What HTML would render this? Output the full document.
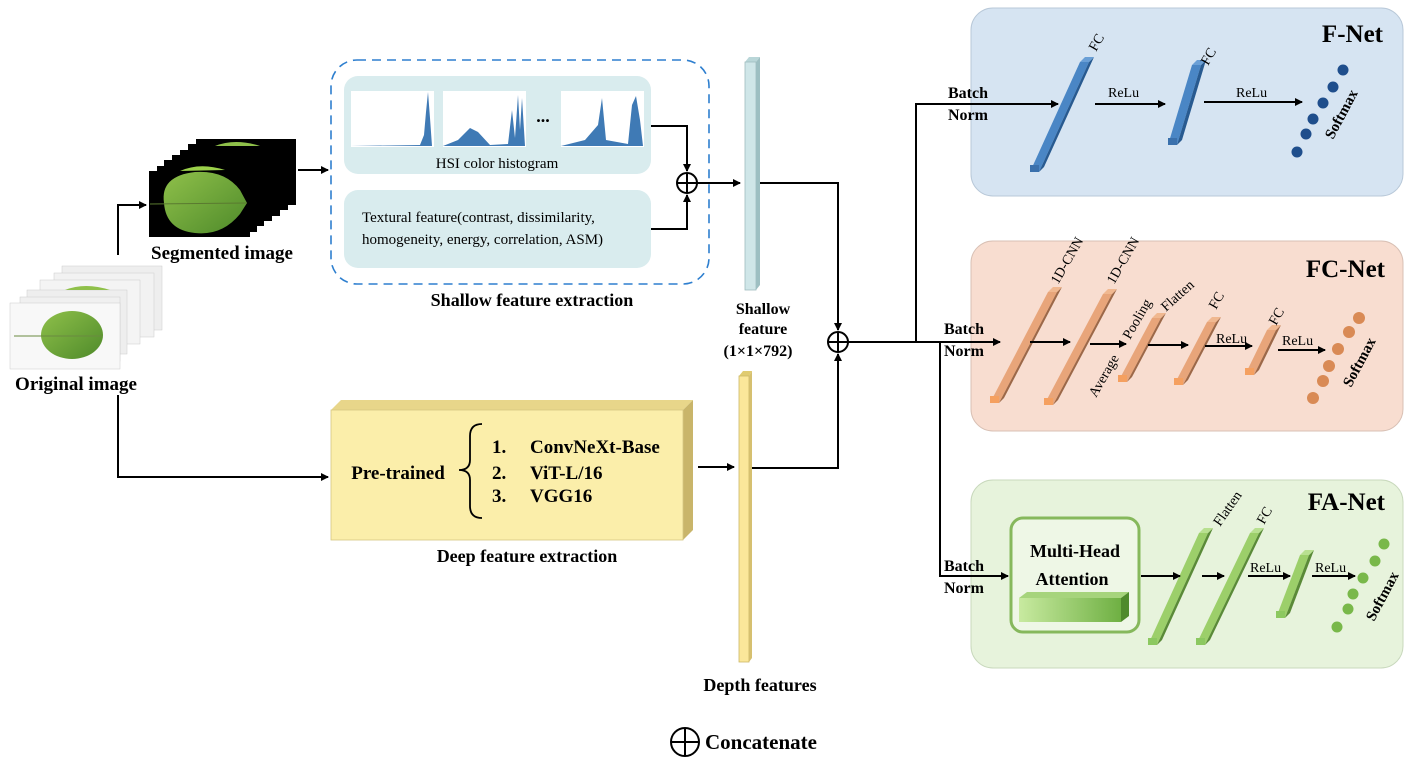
<!DOCTYPE html>
<html><head><meta charset="utf-8"><style>
html,body{margin:0;padding:0;background:#fff}
svg{display:block}
text{font-family:"Liberation Serif",serif;fill:#000}
.b{font-weight:bold}
</style></head><body>
<svg width="1413" height="766" viewBox="0 0 1413 766" xmlns="http://www.w3.org/2000/svg">
<defs>
<marker id="ar" markerWidth="8" markerHeight="8" refX="7" refY="4" orient="auto" markerUnits="userSpaceOnUse"><path d="M0,0 L8,4 L0,8 z" fill="#000"/></marker>
<linearGradient id="leaf" x1="0" y1="0" x2="1" y2="1"><stop offset="0" stop-color="#8fc04a"/><stop offset="1" stop-color="#4e8a2a"/></linearGradient>
<linearGradient id="mh" x1="0" y1="0" x2="1" y2="0"><stop offset="0" stop-color="#c8eaa0"/><stop offset="1" stop-color="#6fb043"/></linearGradient>
</defs>

<rect x="971" y="8" width="432" height="188" rx="22" fill="#d6e4f2" stroke="#b8c8d8"/>
<rect x="971" y="241" width="432" height="190" rx="22" fill="#f8ddd0" stroke="#d8c0b4"/>
<rect x="971" y="480" width="432" height="188" rx="22" fill="#e7f3dc" stroke="#c8d8bc"/>
<text x="1383" y="42" font-size="25" class="b" text-anchor="end">F-Net</text>
<text x="1385" y="277" font-size="25" class="b" text-anchor="end">FC-Net</text>
<text x="1385" y="510" font-size="25" class="b" text-anchor="end">FA-Net</text>

<g>
<rect x="196" y="139" width="100" height="66" fill="#000"/>
<rect x="188" y="144" width="100" height="66" fill="#000"/>
<rect x="180" y="150" width="100" height="66" fill="#000"/>
<rect x="172" y="155" width="100" height="66" fill="#000"/>
<rect x="164" y="160" width="100" height="66" fill="#000"/>
<rect x="157" y="166" width="100" height="66" fill="#000"/>
<rect x="149" y="171" width="101" height="66" fill="#000"/>
<path d="M215,146 Q235,138 260,146 Z" fill="#8fc04a"/>
<path d="M180,171 Q200,162 225,170 Z" fill="#9bd04a"/>
<path d="M164,203 Q160,176 195,172 Q225,170 240,190 L247,203 L240,214 Q222,236 195,233 Q166,230 164,203 Z" fill="url(#leaf)"/>
<line x1="150" y1="204" x2="247" y2="203" stroke="#5a7a30" stroke-width="1"/>
</g>
<g>
<rect x="62" y="266" width="100" height="64" fill="#eee" stroke="#ccc" stroke-width="0.5"/>
<rect x="54" y="273" width="100" height="64" fill="#f2f2f2" stroke="#ccc" stroke-width="0.5"/>
<rect x="40" y="280" width="100" height="64" fill="#f4f4f4" stroke="#ccc" stroke-width="0.5"/>
<rect x="27" y="290" width="100" height="64" fill="#eee" stroke="#ccc" stroke-width="0.5"/>
<rect x="20" y="297" width="100" height="64" fill="#f0f0f0" stroke="#ccc" stroke-width="0.5"/>
<rect x="10" y="303" width="110" height="66" fill="#f8f8f8" stroke="#ccc" stroke-width="0.5"/>
<path d="M65,290 Q85,282 110,290 Z" fill="#8fc04a"/>
<ellipse cx="72" cy="335" rx="31" ry="24" fill="url(#leaf)"/>
<line x1="14" y1="336" x2="102" y2="336" stroke="#6a8a40" stroke-width="1"/>
</g>
<text x="222" y="259" font-size="19" class="b" text-anchor="middle">Segmented image</text>
<text x="76" y="390" font-size="19" class="b" text-anchor="middle">Original image</text>

<polyline points="118,255 118,205 146,205" fill="none" stroke="#000" stroke-width="2" marker-end="url(#ar)"/>
<polyline points="118,395 118,477 328,477" fill="none" stroke="#000" stroke-width="2" marker-end="url(#ar)"/>
<line x1="298" y1="170" x2="328" y2="170" stroke="#000" stroke-width="2" marker-end="url(#ar)"/>

<rect x="331" y="60" width="378" height="224" rx="26" fill="none" stroke="#2e7fcf" stroke-width="1.6" stroke-dasharray="9,6"/>
<rect x="344" y="76" width="307" height="98" rx="14" fill="#d9ecee"/>
<rect x="344" y="190" width="307" height="78" rx="14" fill="#d9ecee"/>
<rect x="351" y="91" width="83" height="56" fill="#fff"/>
<rect x="443" y="91" width="83" height="56" fill="#fff"/>
<rect x="561" y="91" width="83" height="56" fill="#fff"/>
<path d="M351,146 L420,145 L424,135 L426,112 L428,92 L430,118 L432,146 Z" fill="#3f7ab5"/>
<path d="M443,146 L458,140 L470,128 L478,132 L490,145 L508,144 L512,110 L515,138 L518,95 L520,130 L522,98 L525,146 Z" fill="#3f7ab5"/>
<path d="M561,146 L585,140 L598,125 L602,98 L606,140 L628,144 L632,105 L636,96 L640,120 L643,146 Z" fill="#3f7ab5"/>
<text x="543" y="122" font-size="18" class="b" text-anchor="middle">...</text>
<text x="497" y="168" font-size="15" text-anchor="middle">HSI color histogram</text>
<text x="362" y="222" font-size="15">Textural feature(contrast, dissimilarity,</text>
<text x="362" y="244" font-size="15">homogeneity, energy, correlation, ASM)</text>
<text x="532" y="306" font-size="18" class="b" text-anchor="middle">Shallow feature extraction</text>

<polyline points="651,126 687,126 687,171" fill="none" stroke="#000" stroke-width="2" marker-end="url(#ar)"/>
<polyline points="651,229 687,229 687,195" fill="none" stroke="#000" stroke-width="2" marker-end="url(#ar)"/>
<circle cx="687" cy="183" r="10" fill="#fff" stroke="#000" stroke-width="2"/>
<line x1="677" y1="183" x2="697" y2="183" stroke="#000" stroke-width="2"/><line x1="687" y1="173" x2="687" y2="193" stroke="#000" stroke-width="2"/>
<line x1="697" y1="183" x2="740" y2="183" stroke="#000" stroke-width="2" marker-end="url(#ar)"/>

<polygon points="745,62 749,57 760,57 756,62" fill="#b9d6d8"/>
<rect x="745" y="62" width="11" height="228" fill="#cfe6e8" stroke="#a0bcbe" stroke-width="0.8"/>
<polygon points="756,62 760,57 760,285 756,290" fill="#9dbfc2"/>
<text x="763" y="314" font-size="16" class="b" text-anchor="middle">Shallow</text>
<text x="763" y="334" font-size="16" class="b" text-anchor="middle">feature</text>
<text x="758" y="356" font-size="16" class="b" text-anchor="middle">(1×1×792)</text>

<polyline points="760,183 838,183 838,330" fill="none" stroke="#000" stroke-width="2" marker-end="url(#ar)"/>
<polyline points="751,468 838,468 838,354" fill="none" stroke="#000" stroke-width="2" marker-end="url(#ar)"/>
<circle cx="838" cy="342" r="10" fill="#fff" stroke="#000" stroke-width="2"/>
<line x1="828" y1="342" x2="848" y2="342" stroke="#000" stroke-width="2"/><line x1="838" y1="332" x2="838" y2="352" stroke="#000" stroke-width="2"/>

<polygon points="331,410 341,400 693,400 683,410" fill="#e8d68a"/>
<polygon points="683,410 693,400 693,530 683,540" fill="#c9b56a"/>
<rect x="331" y="410" width="352" height="130" fill="#fbeeaa" stroke="#d6c681" stroke-width="0.8"/>
<text x="398" y="479" font-size="19" class="b" text-anchor="middle">Pre-trained</text>
<path d="M482,424 Q470,424 470,436 L470,460 Q470,470 459,470 Q470,470 470,480 L470,506 Q470,518 482,518" fill="none" stroke="#000" stroke-width="1.8"/>
<text x="492" y="453" font-size="19" class="b">1.</text><text x="530" y="453" font-size="19" class="b">ConvNeXt-Base</text>
<text x="492" y="479" font-size="19" class="b">2.</text><text x="530" y="479" font-size="19" class="b">ViT-L/16</text>
<text x="492" y="502" font-size="19" class="b">3.</text><text x="530" y="502" font-size="19" class="b">VGG16</text>
<text x="527" y="562" font-size="18" class="b" text-anchor="middle">Deep feature extraction</text>
<line x1="698" y1="467" x2="734" y2="467" stroke="#000" stroke-width="2" marker-end="url(#ar)"/>

<polygon points="739,376 743,371 752,371 749,376" fill="#e0cb70"/>
<rect x="739" y="376" width="10" height="286" fill="#fbe79a" stroke="#cdb866" stroke-width="0.8"/>
<polygon points="749,376 752,371 752,658 749,662" fill="#d6c070"/>
<text x="760" y="691" font-size="18" class="b" text-anchor="middle">Depth features</text>

<circle cx="685" cy="742" r="14" fill="#fff" stroke="#000" stroke-width="2"/>
<line x1="671" y1="742" x2="699" y2="742" stroke="#000" stroke-width="2"/><line x1="685" y1="728" x2="685" y2="756" stroke="#000" stroke-width="2"/>
<text x="705" y="749" font-size="21" class="b">Concatenate</text>

<polyline points="848,342 916,342 916,104 1058,104" fill="none" stroke="#000" stroke-width="2" marker-end="url(#ar)"/>
<polyline points="916,342 1000,342" fill="none" stroke="#000" stroke-width="2" marker-end="url(#ar)"/>
<polyline points="940,342 940,576 1008,576" fill="none" stroke="#000" stroke-width="2" marker-end="url(#ar)"/>
<text x="948" y="98" font-size="16" class="b">Batch</text><text x="948" y="120" font-size="16" class="b">Norm</text>
<text x="944" y="334" font-size="16" class="b">Batch</text><text x="944" y="356" font-size="16" class="b">Norm</text>
<text x="944" y="571" font-size="16" class="b">Batch</text><text x="944" y="593" font-size="16" class="b">Norm</text>

<!-- F-Net bars -->
<g>
<polygon points="1030,172 1080,62 1089,62 1039,172" fill="#4a86c5"/><polygon points="1039,172 1089,62 1094,57 1044,167" fill="#285a90"/><polygon points="1080,62 1085,57 1094,57 1089,62" fill="#6a9fd6"/>
<rect x="1030" y="165" width="9" height="7" fill="#3a70ac"/>
<polygon points="1168,145 1192,65 1201,65 1177,145" fill="#4a86c5"/><polygon points="1177,145 1201,65 1206,60 1182,140" fill="#285a90"/><polygon points="1192,65 1197,60 1206,60 1201,65" fill="#6a9fd6"/>
<rect x="1168" y="138" width="9" height="7" fill="#3a70ac"/>
<line x1="1095" y1="104" x2="1165" y2="104" stroke="#000" stroke-width="2" marker-end="url(#ar)"/>
<line x1="1204" y1="102" x2="1302" y2="102" stroke="#000" stroke-width="2" marker-end="url(#ar)"/>
<text x="1108" y="97" font-size="14">ReLu</text><text x="1236" y="97" font-size="14">ReLu</text>
<text transform="translate(1096,52) rotate(-60)" font-size="14">FC</text>
<text transform="translate(1208,66) rotate(-60)" font-size="14">FC</text>
<g fill="#1f4e8c"><circle cx="1297" cy="152" r="5.5"/><circle cx="1306" cy="134" r="5.5"/><circle cx="1313" cy="119" r="5.5"/><circle cx="1323" cy="103" r="5.5"/><circle cx="1333" cy="87" r="5.5"/><circle cx="1343" cy="70" r="5.5"/></g>
<text transform="translate(1333,140) rotate(-62)" font-size="15" class="b">Softmax</text>
</g>

<!-- FC-Net bars -->
<g>
<polygon points="990,403 1048,292 1057,292 999,403" fill="#e8a57a"/><polygon points="999,403 1057,292 1062,287 1004,398" fill="#9c6848"/><polygon points="1048,292 1053,287 1062,287 1057,292" fill="#f0b890"/>
<rect x="990" y="396" width="9" height="7" fill="#f5a060"/>
<polygon points="1044,405 1103,294 1112,294 1053,405" fill="#e8a57a"/><polygon points="1053,405 1112,294 1117,289 1058,400" fill="#9c6848"/><polygon points="1103,294 1108,289 1117,289 1112,294" fill="#f0b890"/>
<rect x="1044" y="398" width="9" height="7" fill="#f5a060"/>
<polygon points="1118,382 1152,318 1161,318 1127,382" fill="#e8a57a"/><polygon points="1127,382 1161,318 1166,313 1132,377" fill="#9c6848"/><polygon points="1152,318 1157,313 1166,313 1161,318" fill="#f0b890"/>
<rect x="1118" y="375" width="9" height="7" fill="#f5a060"/>
<polygon points="1174,385 1207,322 1216,322 1183,385" fill="#e8a57a"/><polygon points="1183,385 1216,322 1221,317 1188,380" fill="#9c6848"/><polygon points="1207,322 1212,317 1221,317 1216,322" fill="#f0b890"/>
<rect x="1174" y="378" width="9" height="7" fill="#f5a060"/>
<polygon points="1245,375 1267,330 1276,330 1254,375" fill="#e8a57a"/><polygon points="1254,375 1276,330 1281,325 1259,370" fill="#9c6848"/><polygon points="1267,330 1272,325 1281,325 1276,330" fill="#f0b890"/>
<rect x="1245" y="368" width="9" height="7" fill="#f5a060"/>
<line x1="1030" y1="342" x2="1070" y2="342" stroke="#000" stroke-width="2" marker-end="url(#ar)"/>
<line x1="1090" y1="344" x2="1126" y2="344" stroke="#000" stroke-width="2" marker-end="url(#ar)"/>
<line x1="1148" y1="345" x2="1188" y2="345" stroke="#000" stroke-width="2" marker-end="url(#ar)"/>
<line x1="1205" y1="346" x2="1252" y2="346" stroke="#000" stroke-width="2" marker-end="url(#ar)"/>
<line x1="1278" y1="350" x2="1325" y2="350" stroke="#000" stroke-width="2" marker-end="url(#ar)"/>
<text x="1216" y="343" font-size="14">ReLu</text><text x="1282" y="345" font-size="14">ReLu</text>
<text transform="translate(1058,285) rotate(-60)" font-size="14">1D-CNN</text>
<text transform="translate(1114,285) rotate(-60)" font-size="14">1D-CNN</text>
<text transform="translate(1096,398) rotate(-60)" font-size="14">Average</text>
<text transform="translate(1130,340) rotate(-60)" font-size="14">Pooling</text>
<text transform="translate(1166,312) rotate(-42)" font-size="14">Flatten</text>
<text transform="translate(1216,310) rotate(-60)" font-size="14">FC</text>
<text transform="translate(1276,326) rotate(-60)" font-size="14">FC</text>
<g fill="#d98a55"><circle cx="1313" cy="398" r="6"/><circle cx="1323" cy="381" r="6"/><circle cx="1329" cy="366" r="6"/><circle cx="1338" cy="349" r="6"/><circle cx="1349" cy="332" r="6"/><circle cx="1359" cy="318" r="6"/></g>
<text transform="translate(1351,388) rotate(-62)" font-size="15" class="b">Softmax</text>
</g>

<!-- FA-Net -->
<g>
<rect x="1011" y="518" width="128" height="114" rx="12" fill="#eef7e6" stroke="#86b85c" stroke-width="3"/>
<text x="1075" y="557" font-size="18" class="b" text-anchor="middle" fill="#333">Multi-Head</text>
<text x="1072" y="585" font-size="18" class="b" text-anchor="middle" fill="#333">Attention</text>
<polygon points="1019,598 1027,592 1129,592 1121,598" fill="#a6d47c"/>
<rect x="1019" y="598" width="102" height="24" fill="url(#mh)"/>
<polygon points="1121,598 1129,592 1129,616 1121,622" fill="#4f8a2c"/>
<polygon points="1148,645 1199,533 1208,533 1157,645" fill="#9ccf6a"/><polygon points="1157,645 1208,533 1213,528 1162,640" fill="#5a8a38"/><polygon points="1199,533 1204,528 1213,528 1208,533" fill="#b8e090"/>
<rect x="1148" y="638" width="9" height="7" fill="#8cc860"/>
<polygon points="1196,645 1250,533 1259,533 1205,645" fill="#9ccf6a"/><polygon points="1205,645 1259,533 1264,528 1210,640" fill="#5a8a38"/><polygon points="1250,533 1255,528 1264,528 1259,533" fill="#b8e090"/>
<rect x="1196" y="638" width="9" height="7" fill="#8cc860"/>
<polygon points="1276,618 1300,555 1309,555 1285,618" fill="#9ccf6a"/><polygon points="1285,618 1309,555 1314,550 1290,613" fill="#5a8a38"/><polygon points="1300,555 1305,550 1314,550 1309,555" fill="#b8e090"/>
<rect x="1276" y="611" width="9" height="7" fill="#8cc860"/>
<line x1="1141" y1="576" x2="1180" y2="576" stroke="#000" stroke-width="2" marker-end="url(#ar)"/>
<line x1="1202" y1="576" x2="1224" y2="576" stroke="#000" stroke-width="2" marker-end="url(#ar)"/>
<line x1="1248" y1="576" x2="1290" y2="576" stroke="#000" stroke-width="2" marker-end="url(#ar)"/>
<line x1="1312" y1="576" x2="1355" y2="576" stroke="#000" stroke-width="2" marker-end="url(#ar)"/>
<text x="1250" y="572" font-size="14">ReLu</text><text x="1315" y="572" font-size="14">ReLu</text>
<text transform="translate(1220,527) rotate(-55)" font-size="14">Flatten</text>
<text transform="translate(1264,525) rotate(-60)" font-size="14">FC</text>
<g fill="#79b84a"><circle cx="1337" cy="627" r="5.5"/><circle cx="1348" cy="609" r="5.5"/><circle cx="1353" cy="594" r="5.5"/><circle cx="1363" cy="578" r="5.5"/><circle cx="1375" cy="561" r="5.5"/><circle cx="1384" cy="544" r="5.5"/></g>
<text transform="translate(1374,622) rotate(-62)" font-size="15" class="b">Softmax</text>
</g>
</svg>
</body></html>
